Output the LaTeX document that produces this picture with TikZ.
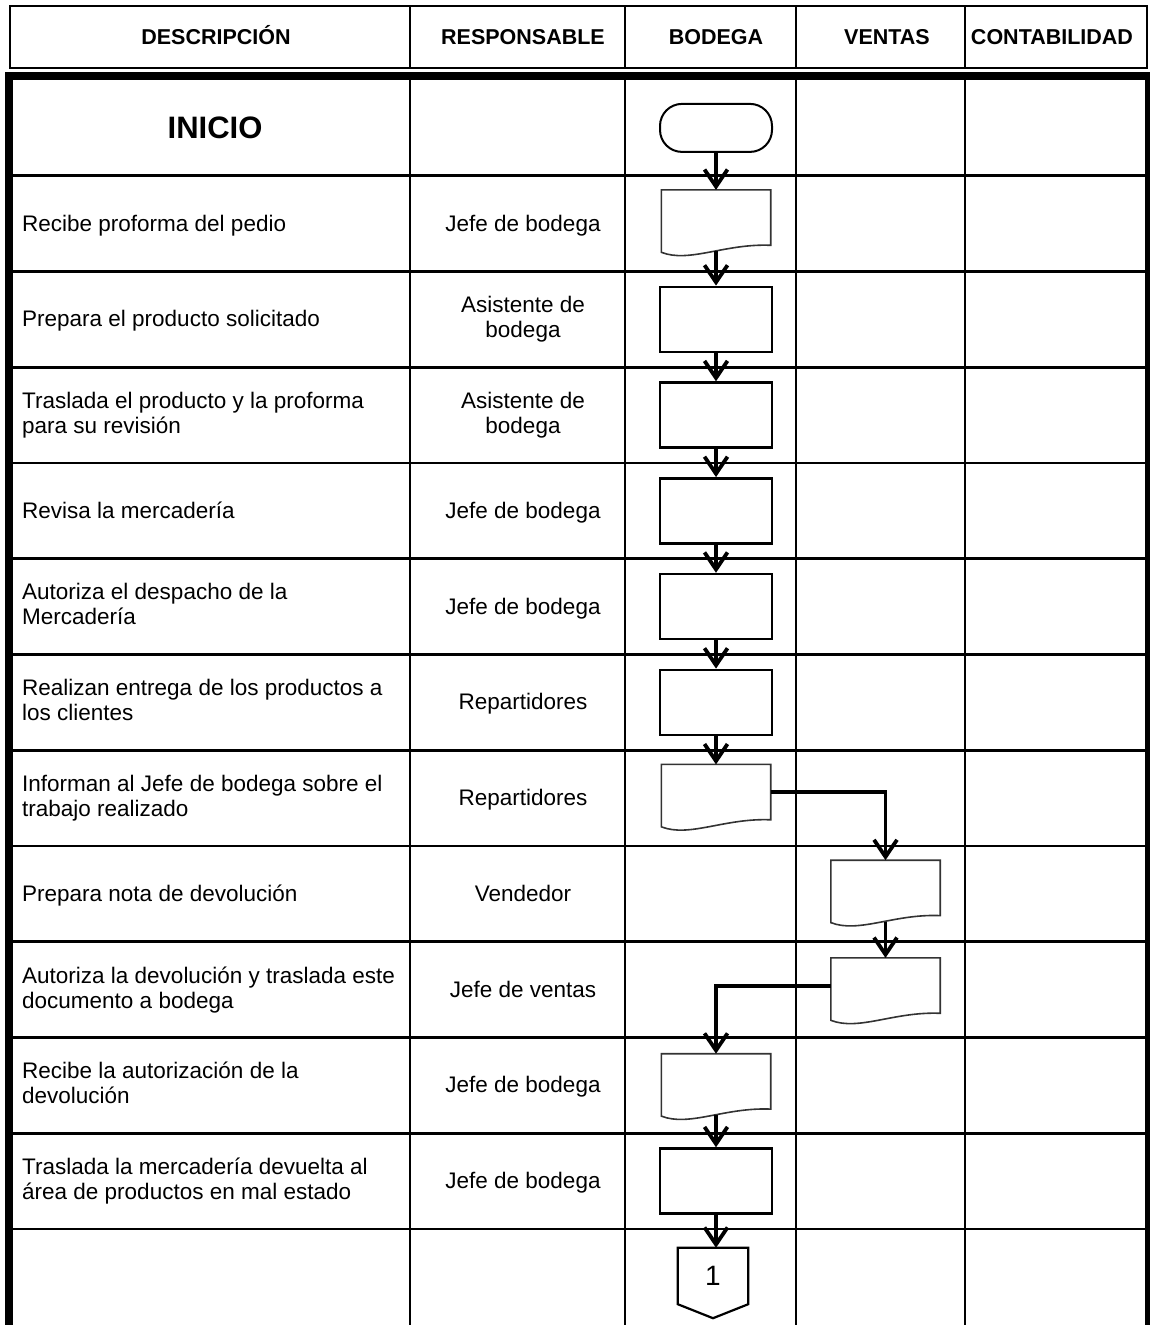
\documentclass[tikz,border=0pt]{standalone}
\usepackage{fontspec}
\setmainfont{Liberation Sans}
\usepackage{tikz}
\usetikzlibrary{arrows.meta}

\newcommand{\linestrut}{\vphantom{Éjy}}

\tikzstyle{rowline} = [line width=2.6pt]
\tikzstyle{outerframe} = [line width=8pt]
\tikzstyle{colhead} = [inner sep=0pt, font=\fontsize{21.5}{24}\selectfont\bfseries,
  execute at begin node=\linestrut]
\tikzstyle{desc} = [anchor=west, align=left, inner sep=0pt, font=\fontsize{22.5}{25}\selectfont,
  execute at begin node=\linestrut, execute at end node=\linestrut]
\tikzstyle{resp} = [align=center, inner sep=0pt, font=\fontsize{22.5}{25}\selectfont,
  execute at begin node=\linestrut, execute at end node=\linestrut]
\tikzstyle{term} = [draw, line width=2pt, rounded corners=22pt, minimum width=112pt, minimum height=48pt]
\tikzstyle{proc} = [draw, line width=2.6pt, minimum width=112pt, minimum height=65pt]
\tikzstyle{doc} = [minimum width=109pt, minimum height=55pt, inner sep=0pt]
\tikzstyle{docline} = [line width=1.6pt, draw=black!80, fill=white]
\tikzstyle{offpage} = [minimum width=70pt, minimum height=56pt, inner sep=0pt, font=\fontsize{28}{30}\selectfont]
\tikzstyle{flow} = [line width=3.8pt, -{Straight Barb[length=17pt,width=23pt]}]

% document symbol: flat top, wavy bottom
\newcommand{\docoutline}[1]{%
  \draw[docline] ([yshift=-7pt]#1.south west) -- (#1.north west) -- (#1.north east) -- (#1.south east)
    .. controls ([xshift=-46pt,yshift=2pt]#1.south east) and ([xshift=28pt,yshift=-18pt]#1.south west)
    .. ([yshift=-7pt]#1.south west) -- cycle;}

\begin{document}
\begin{tikzpicture}[x=1pt, y=-1pt]
\useasboundingbox (0,0) rectangle (1150,1325);

% header
\draw[rowline] (10,6) rectangle (1147,68);
\draw[rowline] (410,6) -- (410,68) (625,6) -- (625,68) (796,6) -- (796,68) (965,6) -- (965,68);
\node[colhead] (hdesc) at (216,37) {DESCRIPCIÓN};
\node[colhead] (hresp) at (523,37) {RESPONSABLE};
\node[colhead] (hbod) at (716,37) {BODEGA};
\node[colhead] (hven) at (887,37) {VENTAS};
\node[colhead] (hcon) at (1052,37) {CONTABILIDAD};

% table body
\foreach \k in {1,...,12}
  \draw[rowline] (9,{80+95.75*\k}) -- (1149,{80+95.75*\k});
\draw[rowline] (410,76) -- (410,1340) (625,76) -- (625,1340) (796,76) -- (796,1340) (965,76) -- (965,1340);
\draw[outerframe] (9,1340) -- (9,76) -- (1149,76) -- (1149,1340);

% rows
\node[font=\fontsize{31}{34}\selectfont\bfseries] (inicio) at (215,128) {INICIO};
\node[term] (ini) at (716,127.9) {};

\node[desc] (desc1) at (22,223.6) {Recibe proforma del pedio};
\node[resp] (resp1) at (523,223.6) {Jefe de bodega};
\node[doc] (doc1) at (716,217.6) {};

\node[desc] (desc2) at (22,319.4) {Prepara el producto solicitado};
\node[resp] (resp2) at (523,319.4) {Asistente de\\bodega};
\node[proc] (proc2) at (716,319.4) {};

\node[desc] (desc3) at (22,415.1) {Traslada el producto y la proforma\\para su revisión};
\node[resp] (resp3) at (523,415.1) {Asistente de\\bodega};
\node[proc] (proc3) at (716,415.1) {};

\node[desc] (desc4) at (22,510.9) {Revisa la mercadería};
\node[resp] (resp4) at (523,510.9) {Jefe de bodega};
\node[proc] (proc4) at (716,510.9) {};

\node[desc] (desc5) at (22,606.6) {Autoriza el despacho de la\\Mercadería};
\node[resp] (resp5) at (523,606.6) {Jefe de bodega};
\node[proc] (proc5) at (716,606.6) {};

\node[desc] (desc6) at (22,702.4) {Realizan entrega de los productos a\\los clientes};
\node[resp] (resp6) at (523,702.4) {Repartidores};
\node[proc] (proc6) at (716,702.4) {};

\node[desc] (desc7) at (22,798.1) {Informan al Jefe de bodega sobre el\\trabajo realizado};
\node[resp] (resp7) at (523,798.1) {Repartidores};
\node[doc] (doc7) at (716,792.1) {};

\node[desc] (desc8) at (22,893.9) {Prepara nota de devolución};
\node[resp] (resp8) at (523,893.9) {Vendedor};
\node[doc] (doc8) at (885.5,887.9) {};

\node[desc] (desc9) at (22,989.6) {Autoriza la devolución y traslada este\\documento a bodega};
\node[resp] (resp9) at (523,989.6) {Jefe de ventas};
\node[doc] (doc9) at (885.5,985.6) {};

\node[desc] (desc10) at (22,1085.4) {Recibe la autorización de la\\devolución};
\node[resp] (resp10) at (523,1085.4) {Jefe de bodega};
\node[doc] (doc10) at (716,1081.4) {};

\node[desc] (desc11) at (22,1181.1) {Traslada la mercadería devuelta al\\área de productos en mal estado};
\node[resp] (resp11) at (523,1181.1) {Jefe de bodega};
\node[proc] (proc11) at (716,1181.1) {};

\node[offpage] (off) at (713,1276) {1};
\draw[line width=2.2pt] (off.north west) -- (off.north east) -- (off.south east)
  -- ([yshift=-14pt]off.south) -- (off.south west) -- cycle;

\foreach \d in {doc1,doc7,doc8,doc9,doc10}
  \docoutline{\d};

% flow
\draw[flow] (ini) -- (doc1);
\draw[flow] ([yshift=-6pt]doc1.south) -- (proc2);
\draw[flow] (proc2) -- (proc3);
\draw[flow] (proc3) -- (proc4);
\draw[flow] (proc4) -- (proc5);
\draw[flow] (proc5) -- (proc6);
\draw[flow] (proc6) -- (doc7);
\draw[flow] (doc7.east) -| (doc8.north);
\draw[flow] ([yshift=-6pt]doc8.south) -- (doc9);
\draw[flow] (doc9.west) -| (doc10.north);
\draw[flow] ([yshift=-6pt]doc10.south) -- (proc11);
\draw[flow] (proc11) -- (proc11 |- off.north);
\end{tikzpicture}
\end{document}
